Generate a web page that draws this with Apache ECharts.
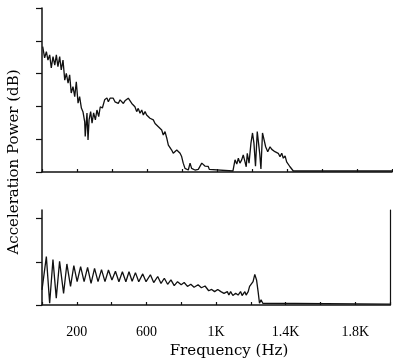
<!DOCTYPE html>
<html>
<head>
<meta charset="utf-8">
<script src="https://cdn.jsdelivr.net/npm/echarts@6/dist/echarts.min.js"></script>
<style>html,body{margin:0;padding:0;background:#fff}#c{width:393px;height:362px}</style>
</head>
<body>
<div id="c"></div>
<script>
// Top panel spectrum (frequency in Hz, power in axis units)
var topFreq = [4,15,25,34,44,53,63,73,82,91,101,110,120,130,139,149,158,167,177,187,196,206,215,225,234,244,247,257,263,269,278,286,295,305,314,324,333,345,358,371,379,389,398,407,417,427,436,446,455,465,474,484,493,503,513,522,531,541,550,560,570,579,589,598,607,617,627,636,646,655,665,674,684,693,703,713,722,731,741,750,760,770,779,789,798,807,817,827,836,846,855,865,874,893,903,913,922,931,941,950,956,966,1091,1093,1103,1113,1122,1131,1141,1150,1160,1167,1173,1183,1194,1203,1211,1220,1230,1237,1244,1251,1260,1269,1278,1290,1303,1313,1322,1331,1341,1350,1360,1370,1379,1389,1398,1407,1417,1427,1436,2000];
var topPower = [3.82,3.48,3.67,3.41,3.57,3.17,3.52,3.26,3.57,3.21,3.52,3.11,3.41,2.80,3.01,2.71,2.96,2.41,2.60,2.30,2.75,2.10,2.30,1.95,1.84,1.53,1.08,1.80,0.98,1.59,1.84,1.49,1.80,1.59,1.89,1.69,1.99,1.95,2.20,2.26,2.14,2.25,2.20,2.25,2.14,2.20,2.09,2.20,2.14,2.09,2.17,2.20,2.25,2.20,2.09,2.04,1.99,1.84,1.94,1.79,1.89,1.74,1.84,1.74,1.69,1.64,1.59,1.59,1.48,1.53,1.38,1.33,1.28,1.13,1.23,1.03,0.82,0.88,0.67,0.57,0.52,0.67,0.72,0.57,0.47,0.27,0.11,0.16,0.06,0.27,0.11,0.12,0.06,0.08,0.09,0.27,0.21,0.18,0.19,0.17,0.08,0.03,0.03,0.06,0.37,0.24,0.42,0.27,0.37,0.52,0.31,0.16,0.57,0.27,0.88,1.19,0.88,0.18,1.23,1.18,0.57,0.09,1.19,1.20,0.77,0.62,0.77,0.69,0.75,0.62,0.67,0.57,0.47,0.57,0.42,0.49,0.31,0.37,0.16,0.11,0.03,0.03];

// Bottom panel spectrum
var botFreq = [0,25,44,63,82,101,124,143,164,183,202,222,242,262,282,302,322,342,362,382,402,422,442,462,482,500,518,537,556,579,598,623,642,665,684,703,722,741,760,779,800,817,836,855,874,897,916,937,958,975,992,1010,1028,1046,1065,1074,1084,1097,1113,1127,1141,1150,1166,1173,1185,1193,1202,1213,1223,1233,1242,1250,1259,1269,1280,2000];
var botPower = [0.35,1.12,0.04,1.05,0.16,1.01,0.27,0.95,0.43,0.91,0.54,0.89,0.54,0.87,0.50,0.85,0.54,0.82,0.54,0.81,0.58,0.78,0.54,0.77,0.54,0.77,0.55,0.75,0.54,0.72,0.54,0.70,0.52,0.66,0.50,0.62,0.48,0.58,0.45,0.54,0.47,0.52,0.43,0.48,0.41,0.47,0.40,0.44,0.33,0.36,0.31,0.36,0.31,0.27,0.31,0.23,0.31,0.22,0.27,0.23,0.31,0.22,0.31,0.23,0.31,0.43,0.39,0.54,0.71,0.58,0.31,0.04,0.12,0.04,0.02,0.02];

var tickLabels = {200:'200',600:'600',1000:'1K',1400:'1.4K',1800:'1.8K'};
var xLabel = 'Frequency (Hz)';
var yLabel = 'Acceleration Power (dB)';

function zip(a,b){var r=[];for(var i=0;i<a.length;i++)r.push([a[i],b[i]]);return r;}

var ink = '#111';
var axisLineStyle = {color: ink, width: 1.5};
function xAx(idx, showLabels){
  return {
    type:'value', gridIndex: idx, min:0, max:2000, interval:200,
    axisLine:{show:true, onZero:false, lineStyle:axisLineStyle},
    axisTick:{show:true, inside:true, length:3, lineStyle:{color:ink,width:1.2}},
    splitLine:{show:false},
    axisLabel:{show:showLabels, margin:20, color:'#000', fontFamily:'Liberation Serif', fontSize:14,
      formatter:function(v){return tickLabels[v]||'';}}
  };
}

var chart = echarts.init(document.getElementById('c'), null, {renderer:'canvas'});
chart.setOption({
  backgroundColor:'#fff',
  animation:false,
  grid:[
    {left:42, top:8, width:350, height:164},
    {left:42, top:210, width:350, height:95}
  ],
  xAxis:[xAx(0,false), xAx(1,true)],
  yAxis:[
    {type:'value', gridIndex:0, min:0, max:5, interval:1,
     axisLine:{show:true, onZero:false, lineStyle:axisLineStyle},
     axisTick:{show:true, inside:false, length:6, lineStyle:{color:ink,width:1.2}},
     axisLabel:{show:false}, splitLine:{show:false}},
    {type:'value', gridIndex:1, min:0, max:2.2, interval:1,
     axisLine:{show:true, onZero:false, lineStyle:axisLineStyle},
     axisTick:{show:true, inside:false, length:6, customValues:[0,1,2], lineStyle:{color:ink,width:1.2}},
     axisLabel:{show:false}, splitLine:{show:false}},
    {type:'value', gridIndex:1, position:'right', min:0, max:2.2,
     axisLine:{show:true, onZero:false, lineStyle:{color:ink,width:1.2}},
     axisTick:{show:false}, axisLabel:{show:false}, splitLine:{show:false}}
  ],
  series:[
    {type:'line', xAxisIndex:0, yAxisIndex:0, data:zip(topFreq,topPower), symbol:'none',
     lineStyle:{color:ink, width:1.3}},
    {type:'line', xAxisIndex:1, yAxisIndex:1, data:zip(botFreq,botPower), symbol:'none',
     lineStyle:{color:ink, width:1.3}}
  ],
  graphic:[
    {type:'text', x:229, y:351, style:{text:xLabel, fill:'#000', font:'15px "DejaVu Serif"', textAlign:'center', textVerticalAlign:'middle'}},
    {type:'text', x:14, y:162, rotation:Math.PI/2, style:{text:yLabel, fill:'#000', font:'15px "DejaVu Serif"', textAlign:'center', textVerticalAlign:'middle'}}
  ]
});
</script>
</body>
</html>
